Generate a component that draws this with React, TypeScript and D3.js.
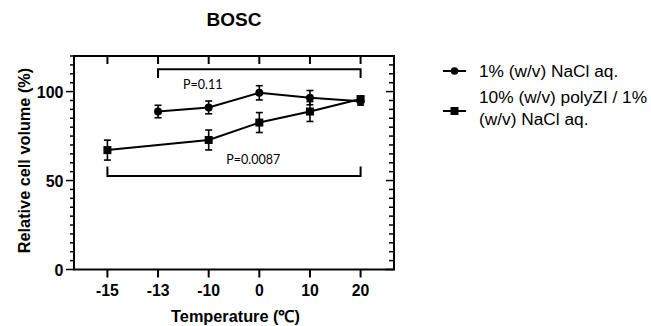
import React from "react";
import * as d3 from "d3";

const categories = ["-15", "-13", "-10", "0", "10", "20"];
const naclCats = ["-13", "-10", "0", "10", "20"];
const naclMean = [88.8, 91.1, 99.3, 96.6, 94.6];
const naclErr = [3.5, 3.6, 4.0, 4.0, 2.2];
const polyCats = ["-15", "-10", "0", "10", "20"];
const polyMean = [67.1, 72.8, 82.6, 88.8, 95.8];
const polyErr = [5.6, 5.6, 5.6, 5.6, 1.8];
const yTicksMajor = [0, 50, 100];
const legendLabels = [["1% (w/v) NaCl aq."], ["10% (w/v) polyZI / 1%", "(w/v) NaCl aq."]];
const brackets = [
  { from: "-13", to: "20", y: 112.5, leg: 107.6, label: "P=0.11", labelAt: "-10", labelDx: -6, labelY: 101.2 },
  { from: "-15", to: "20", y: 52.6, leg: 57.9, label: "P=0.0087", labelAt: "0", labelDx: -6, labelY: 59.3 },
];

const W = 651, H = 326;
const L = 74, R = 394, T = 56, B = 269.5;

export default function App() {
  const x = d3.scalePoint<string>().domain(categories).range([L, R]).padding(0.66);
  const y = d3.scaleLinear().domain([0, 120]).range([B, T]);
  const minor = d3.range(0, 121, 5);
  const line = d3.line<[string, number]>().x(d => x(d[0])!).y(d => y(d[1]));
  const nacl: [string, number][] = naclCats.map((c, i) => [c, naclMean[i]]);
  const poly: [string, number][] = polyCats.map((c, i) => [c, polyMean[i]]);
  const axisFont = "'Liberation Sans', Arial, sans-serif";
  const errBars = (cats: string[], m: number[], e: number[]) =>
    cats.map((c, i) => {
      const cx = x(c)!;
      return (
        <g key={"e" + c} stroke="#000" strokeWidth={1.6}>
          <line x1={cx} x2={cx} y1={y(m[i] + e[i])} y2={y(m[i] - e[i])} />
          <line x1={cx - 3.5} x2={cx + 3.5} y1={y(m[i] + e[i])} y2={y(m[i] + e[i])} />
          <line x1={cx - 3.5} x2={cx + 3.5} y1={y(m[i] - e[i])} y2={y(m[i] - e[i])} />
        </g>
      );
    });
  return (
    <svg width={W} height={H} style={{ position: "absolute", left: 0, top: 0, background: "#fff" }}>
      <text x={(L + R) / 2} y={26} textAnchor="middle" fontFamily={axisFont} fontWeight="bold" fontSize={19}>BOSC</text>
      {/* frame */}
      <rect x={L} y={T} width={R - L} height={B - T} fill="none" stroke="#000" strokeWidth={2} />
      {/* left ticks */}
      {minor.map(v => (
        <line key={"lm" + v} x1={L - (v % 50 === 0 ? 8 : 4)} x2={L} y1={y(v)} y2={y(v)} stroke="#000" strokeWidth={1.5} />
      ))}
      {/* right ticks inward */}
      {minor.map(v => (
        <line key={"rm" + v} x1={R} x2={R - (v % 50 === 0 ? 8 : 5)} y1={y(v)} y2={y(v)} stroke="#000" strokeWidth={1.5} />
      ))}
      {yTicksMajor.map(v => (
        <text key={"yl" + v} x={63.5} y={y(v) + 6} textAnchor="end" fontFamily={axisFont} fontWeight="bold" fontSize={16}>{v}</text>
      ))}
      {/* bottom & top ticks */}
      {categories.map(c => (
        <g key={"xt" + c}>
          <line x1={x(c)} x2={x(c)} y1={B} y2={B + 8} stroke="#000" strokeWidth={2} />
          <line x1={x(c)} x2={x(c)} y1={T} y2={T + 8} stroke="#000" strokeWidth={2} />
          <text x={x(c)} y={296} textAnchor="middle" fontFamily={axisFont} fontWeight="bold" fontSize={15.8}>{c}</text>
        </g>
      ))}
      <text x={235.5} y={322} textAnchor="middle" fontFamily={axisFont} fontWeight="bold" fontSize={16.3}>Temperature (℃)</text>
      <text transform={`translate(30,160.5) rotate(-90)`} textAnchor="middle" fontFamily={axisFont} fontWeight="bold" fontSize={16.3}>Relative cell volume (%)</text>
      {/* brackets */}
      {brackets.map((b, i) => (
        <g key={"b" + i}>
          <path d={`M${x(b.from)},${y(b.leg)}V${y(b.y)}H${x(b.to)}V${y(b.leg)}`} fill="none" stroke="#000" strokeWidth={2} />
          <text x={x(b.labelAt)! + b.labelDx} y={y(b.labelY)} textAnchor="middle" fontFamily="Lato, 'Open Sans', sans-serif" fontSize={12.5}>{b.label}</text>
        </g>
      ))}
      {/* series */}
      <path d={line(nacl)!} fill="none" stroke="#000" strokeWidth={2} />
      <path d={line(poly)!} fill="none" stroke="#000" strokeWidth={2} />
      {errBars(naclCats, naclMean, naclErr)}
      {errBars(polyCats, polyMean, polyErr)}
      {nacl.map(d => <circle key={"c" + d[0]} cx={x(d[0])} cy={y(d[1])} r={4} fill="#000" />)}
      {poly.map(d => <rect key={"s" + d[0]} x={x(d[0])! - 4} y={y(d[1]) - 4} width={8} height={8} fill="#000" />)}
      {/* legend */}
      <g fontFamily={axisFont} fontSize={17.3}>
        <line x1={443} x2={466} y1={71} y2={71} stroke="#000" strokeWidth={2} />
        <circle cx={454.5} cy={71} r={3.8} fill="#000" />
        <text x={479} y={77}>{legendLabels[0][0]}</text>
        <line x1={443} x2={466} y1={111} y2={111} stroke="#000" strokeWidth={2} />
        <rect x={450.5} y={107} width={8} height={8} fill="#000" />
        <text x={479} y={103}>{legendLabels[1][0]}</text>
        <text x={479} y={125}>{legendLabels[1][1]}</text>
      </g>
    </svg>
  );
}
